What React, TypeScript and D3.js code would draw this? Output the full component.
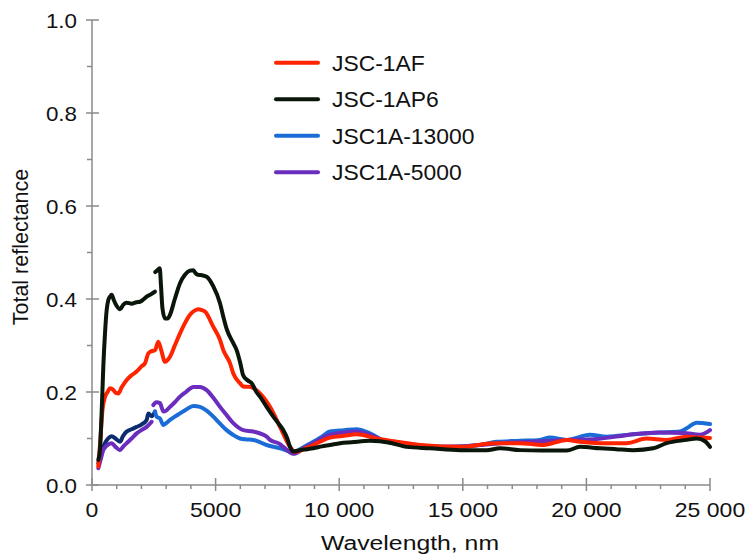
import React from "react";
import * as d3 from "d3";

// ---- data ----
const seriesNames = ["JSC-1AF", "JSC-1AP6", "JSC1A-13000", "JSC1A-5000"];
const seriesColors = ["#ff2400", "#0b160b", "#1a6dd6", "#6a2dbd"];
const blueEarlyColor = "#0c2c70";

const xTicks = [0, 5000, 10000, 15000, 20000, 25000];
const xTickLabels = ["0", "5000", "10 000", "15 000", "20 000", "25 000"];
const yTicks = [0, 0.2, 0.4, 0.6, 0.8, 1.0];
const yTickLabels = ["0.0", "0.2", "0.4", "0.6", "0.8", "1.0"];

// JSC-1AF (red)
const redWl = [255, 330, 420, 530, 630, 728, 850, 966, 1066, 1200, 1403, 1600, 1807, 2000, 2144, 2279, 2414, 2548, 2683, 2800, 2953, 3155, 3350, 3560, 3760, 3964, 4150, 4301, 4450, 4571, 4908, 5178, 5312, 5582, 5716, 5986, 6121, 6391, 6796, 7200, 7605, 8010, 8213, 8600, 8953, 9300, 9627, 10200, 10706, 11515, 12324, 13267, 15000, 16235, 17310, 18257, 19201, 19740, 20549, 21627, 22436, 23245, 24055, 24595, 25000];
const redVal = [0.04, 0.09, 0.16, 0.19, 0.2, 0.208, 0.205, 0.198, 0.197, 0.21, 0.226, 0.236, 0.244, 0.255, 0.262, 0.283, 0.288, 0.29, 0.308, 0.29, 0.265, 0.276, 0.3, 0.326, 0.348, 0.366, 0.375, 0.378, 0.376, 0.373, 0.34, 0.312, 0.29, 0.262, 0.24, 0.219, 0.212, 0.211, 0.197, 0.168, 0.125, 0.082, 0.071, 0.078, 0.086, 0.095, 0.102, 0.106, 0.109, 0.1, 0.093, 0.086, 0.082, 0.09, 0.09, 0.086, 0.097, 0.093, 0.09, 0.09, 0.1, 0.097, 0.104, 0.102, 0.101];

// JSC-1AP6 (black) – two segments
const blackWl1 = [255, 320, 400, 457, 530, 593, 660, 728, 796, 880, 1000, 1133, 1270, 1403, 1600, 1800, 1942, 2100, 2212, 2380, 2548];
const blackVal1 = [0.054, 0.075, 0.17, 0.254, 0.33, 0.376, 0.398, 0.405, 0.409, 0.398, 0.385, 0.378, 0.388, 0.392, 0.39, 0.393, 0.394, 0.4, 0.405, 0.41, 0.416];
const blackWl2 = [2560, 2650, 2740, 2790, 2850, 2953, 3060, 3155, 3350, 3560, 3760, 3964, 4098, 4200, 4301, 4450, 4638, 4908, 5178, 5312, 5450, 5716, 5851, 6000, 6121, 6300, 6459, 6650, 6796, 7065, 7334, 7605, 7740, 7900, 8010, 8145, 8415, 8700, 8953, 9300, 9627, 10032, 10500, 11245, 12054, 12729, 13672, 14886, 15965, 16505, 17310, 18200, 19201, 19740, 20549, 21200, 21897, 22706, 23245, 24055, 24460, 24800, 25000];
const blackVal2 = [0.458, 0.462, 0.466, 0.43, 0.38, 0.358, 0.358, 0.366, 0.4, 0.434, 0.452, 0.461, 0.462, 0.455, 0.452, 0.451, 0.448, 0.427, 0.391, 0.362, 0.335, 0.305, 0.29, 0.262, 0.235, 0.225, 0.219, 0.2, 0.19, 0.168, 0.147, 0.128, 0.118, 0.1, 0.082, 0.072, 0.075, 0.077, 0.079, 0.083, 0.086, 0.09, 0.092, 0.095, 0.091, 0.082, 0.079, 0.075, 0.075, 0.079, 0.075, 0.074, 0.074, 0.082, 0.079, 0.077, 0.075, 0.079, 0.09, 0.097, 0.1, 0.094, 0.082];

// JSC1A-13000 (blue) – early dark segment + main segment
const blueWl1 = [255, 350, 526, 650, 796, 950, 1133, 1250, 1403, 1600, 1807, 2000, 2212, 2279, 2414, 2548];
const blueVal1 = [0.047, 0.065, 0.09, 0.1, 0.105, 0.1, 0.093, 0.105, 0.115, 0.12, 0.125, 0.13, 0.14, 0.154, 0.148, 0.158];
const blueWl2 = [2548, 2616, 2750, 2885, 3000, 3155, 3350, 3560, 3800, 4098, 4369, 4638, 4908, 5178, 5447, 5700, 5986, 6250, 6525, 7065, 7605, 8145, 8600, 8953, 9300, 9627, 10200, 10706, 11245, 11920, 12997, 14348, 15695, 16370, 17310, 18122, 18527, 19201, 20144, 20818, 21897, 22976, 23785, 24055, 24460, 25000];
const blueVal2 = [0.158, 0.147, 0.143, 0.129, 0.133, 0.14, 0.147, 0.154, 0.162, 0.17, 0.168, 0.16, 0.147, 0.132, 0.118, 0.108, 0.1, 0.098, 0.097, 0.086, 0.079, 0.071, 0.083, 0.093, 0.104, 0.115, 0.118, 0.12, 0.111, 0.093, 0.086, 0.082, 0.086, 0.093, 0.095, 0.097, 0.102, 0.097, 0.108, 0.104, 0.109, 0.113, 0.115, 0.122, 0.134, 0.131];

// JSC1A-5000 (purple) – two segments
const purpleWl1 = [255, 350, 457, 600, 796, 950, 1133, 1250, 1403, 1600, 1807, 2000, 2212, 2414];
const purpleVal1 = [0.036, 0.055, 0.075, 0.085, 0.09, 0.082, 0.075, 0.082, 0.09, 0.1, 0.111, 0.118, 0.125, 0.136];
const purpleWl2 = [2481, 2600, 2750, 2885, 3000, 3155, 3350, 3560, 3800, 4098, 4369, 4638, 4900, 5178, 5450, 5716, 6121, 6525, 7065, 7200, 7605, 7740, 8145, 8600, 8953, 9627, 10200, 10706, 11245, 11920, 12997, 14348, 15695, 16505, 17310, 18200, 19201, 20414, 21200, 21897, 22976, 23920, 24595, 25000];
const purpleVal2 = [0.172, 0.178, 0.176, 0.158, 0.16, 0.168, 0.178, 0.19, 0.2, 0.211, 0.211, 0.204, 0.188, 0.168, 0.15, 0.133, 0.118, 0.115, 0.104, 0.097, 0.088, 0.082, 0.067, 0.08, 0.09, 0.108, 0.113, 0.115, 0.108, 0.093, 0.086, 0.082, 0.086, 0.09, 0.092, 0.094, 0.097, 0.099, 0.104, 0.109, 0.113, 0.112, 0.108, 0.118];

const W = 749;
const H = 554;
const X0 = 92, X1 = 710, Y0 = 485, Y1 = 20;
const FONT = "'Liberation Sans', Arial, Helvetica, sans-serif";
const AXIS = "#8a8a8a";

function zip(wl: number[], v: number[]): [number, number][] {
  return wl.map((w, i) => [w, v[i]]);
}

export default function App() {
  const x = d3.scaleLinear().domain([0, 25000]).range([X0, X1]);
  const y = d3.scaleLinear().domain([0, 1]).range([Y0, Y1]);
  const line = d3
    .line<[number, number]>()
    .x((d) => x(d[0]))
    .y((d) => y(d[1]))
    .curve(d3.curveMonotoneX);

  const paths: { d: [number, number][]; color: string }[] = [
    { d: zip(blueWl1, blueVal1), color: blueEarlyColor },
    { d: zip(blueWl2, blueVal2), color: seriesColors[2] },
    { d: zip(purpleWl1, purpleVal1), color: seriesColors[3] },
    { d: zip(purpleWl2, purpleVal2), color: seriesColors[3] },
    { d: zip(redWl, redVal), color: seriesColors[0] },
    { d: zip(blackWl1, blackVal1), color: seriesColors[1] },
    { d: zip(blackWl2, blackVal2), color: seriesColors[1] },
  ];

  const xMinor = d3.range(0, 25001, 1000).filter((v) => v % 5000 !== 0);
  const yMinor = d3.range(1, 10, 2).map((v) => v / 10);

  return (
    <svg
      width={W}
      height={H}
      style={{ position: "absolute", left: 0, top: 0, display: "block" }}
      fontFamily={FONT}
    >
      <rect width={W} height={H} fill="#fff" />
      {/* axes */}
      <line x1={X0} x2={X0} y1={Y1} y2={Y0} stroke={AXIS} strokeWidth={1.5} />
      <line x1={X0} x2={X1} y1={Y0} y2={Y0} stroke={AXIS} strokeWidth={1.5} />
      {yTicks.map((t) => (
        <line key={"yt" + t} x1={X0 - 6} x2={X0 + 7} y1={y(t)} y2={y(t)} stroke={AXIS} strokeWidth={1.5} />
      ))}
      {yMinor.map((t) => (
        <line key={"ym" + t} x1={X0 - 5} x2={X0} y1={y(t)} y2={y(t)} stroke={AXIS} strokeWidth={1.5} />
      ))}
      {xTicks.map((t) => (
        <line key={"xt" + t} x1={x(t)} x2={x(t)} y1={Y0 - 7} y2={Y0 + 6} stroke={AXIS} strokeWidth={1.5} />
      ))}
      {xMinor.map((t) => (
        <line key={"xm" + t} x1={x(t)} x2={x(t)} y1={Y0} y2={Y0 + 4} stroke={AXIS} strokeWidth={1.5} />
      ))}
      {/* tick labels */}
      {yTicks.map((t, i) => (
        <text
          key={"yl" + t}
          transform={`translate(77,${y(t) + 7.5}) scale(1.12,1)`}
          textAnchor="end"
          fontSize={20}
          fill="#111"
        >
          {yTickLabels[i]}
        </text>
      ))}
      {xTicks.map((t, i) => (
        <text
          key={"xl" + t}
          transform={`translate(${x(t)},${517}) scale(1.15,1)`}
          textAnchor="middle"
          fontSize={20}
          fill="#111"
        >
          {xTickLabels[i]}
        </text>
      ))}
      {/* axis titles */}
      <text
        transform={`translate(28,247) rotate(-90)`}
        textAnchor="middle"
        fontSize={21.5}
        fill="#111"
      >
        Total reflectance
      </text>
      <text
        transform={`translate(410,550) scale(1.18,1)`}
        textAnchor="middle"
        fontSize={21}
        fill="#111"
      >
        Wavelength, nm
      </text>
      {/* data */}
      <g fill="none" strokeWidth={4} strokeLinejoin="round" strokeLinecap="round">
        {paths.map((p, i) => (
          <path key={"p" + i} d={line(p.d) || ""} stroke={p.color} />
        ))}
      </g>
      {/* legend */}
      {seriesNames.map((n, i) => {
        const ly = 62.7 + i * 36.5;
        return (
          <g key={"lg" + n}>
            <line x1={276} x2={318} y1={ly} y2={ly} stroke={seriesColors[i]} strokeWidth={4} strokeLinecap="round" />
            <text
              transform={`translate(332,${ly + 8}) scale(1.04,1)`}
              fontSize={22}
              fill="#111"
            >
              {n}
            </text>
          </g>
        );
      })}
    </svg>
  );
}
